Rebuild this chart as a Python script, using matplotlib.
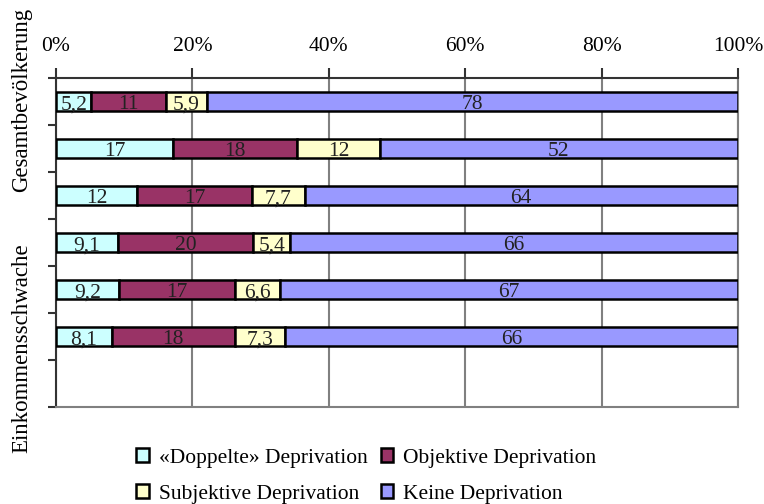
import numpy as np
import matplotlib
matplotlib.use("Agg")
import matplotlib.pyplot as plt
from matplotlib.patches import Patch

plt.rcParams['font.family'] = ['Liberation Serif', 'DejaVu Serif']

# data (values as printed, each row sums to ~100)
series = ['«Doppelte» Deprivation', 'Objektive Deprivation',
          'Subjektive Deprivation', 'Keine Deprivation']
colors = ['#CCFFFF', '#993366', '#FFFFCC', '#9999FF']
doppelte = [5.2, 17, 12, 9.1, 9.2, 8.1]
objektive = [11, 18, 17, 20, 17, 18]
subjektive = [5.9, 12, 7.7, 5.4, 6.6, 7.3]
keine = [78, 52, 64, 66, 67, 66]
labels = [['5,2', '17', '12', '9,1', '9,2', '8,1'],
          ['11', '18', '17', '20', '17', '18'],
          ['5,9', '12', '7,7', '5,4', '6,6', '7,3'],
          ['78', '52', '64', '66', '67', '66']]

vals = np.array([doppelte, objektive, subjektive, keine], dtype=float)
pct = vals / vals.sum(axis=0) * 100

fig = plt.figure(figsize=(7.64, 5.04), dpi=100)
ax = fig.add_axes([56/764, 1-407/504, 682/764, 329/504])

ypos = np.arange(len(doppelte)) + 0.5
left = np.zeros(len(doppelte))
for i in range(4):
    ax.barh(ypos, pct[i], left=left, height=0.4, color=colors[i],
            edgecolor='black', linewidth=1.8, zorder=3)
    for j in range(len(ypos)):
        ax.text(left[j] + pct[i][j]/2, ypos[j] + 0.07, labels[i][j],
                ha='center', va='center', fontsize=15.5, color='#222222',
                zorder=4)
    left += pct[i]

ax.set_xlim(0, 100)
ax.set_ylim(7, 0)
ax.xaxis.tick_top()
ax.set_xticks(np.arange(0, 101, 20))
ax.set_xticklabels([f'{v}%' for v in range(0, 101, 20)])
ax.tick_params(axis='x', length=7, width=1.5, color='#333333', pad=9,
               labelsize=15.5)
ax.set_yticks(np.arange(0, 8))
ax.set_yticklabels([])
ax.tick_params(axis='y', length=6, width=1.5, color='#333333')
ax.grid(axis='x', color='#808080', linewidth=1.5, zorder=0)
ax.spines['left'].set_color('#333333')
ax.spines['top'].set_color('#333333')
ax.spines['bottom'].set_color('#808080')
ax.spines['right'].set_color('#808080')
for s in ax.spines.values():
    s.set_linewidth(1.5)

fig.text(22/764, 1-100/504, 'Gesamtbevölkerung', rotation=90, ha='center',
         va='center', fontsize=16.5)
fig.text(22/764, 1-348/504, 'Einkommensschwache', rotation=90, ha='center',
         va='center', fontsize=16.5)

handles = [Patch(facecolor=c, edgecolor='black', linewidth=1.8) for c in colors]
order = [0, 2, 1, 3]
fig.legend([handles[k] for k in order], [series[k] for k in order],
           ncol=2, loc='lower left', bbox_to_anchor=(132/764, -0.008),
           frameon=False, fontsize=15.5, handlelength=0.6, handleheight=0.6,
           handletextpad=0.45, columnspacing=0.6, labelspacing=0.78,
           borderaxespad=0, borderpad=0.2)

fig.savefig('out.png', dpi=100)
